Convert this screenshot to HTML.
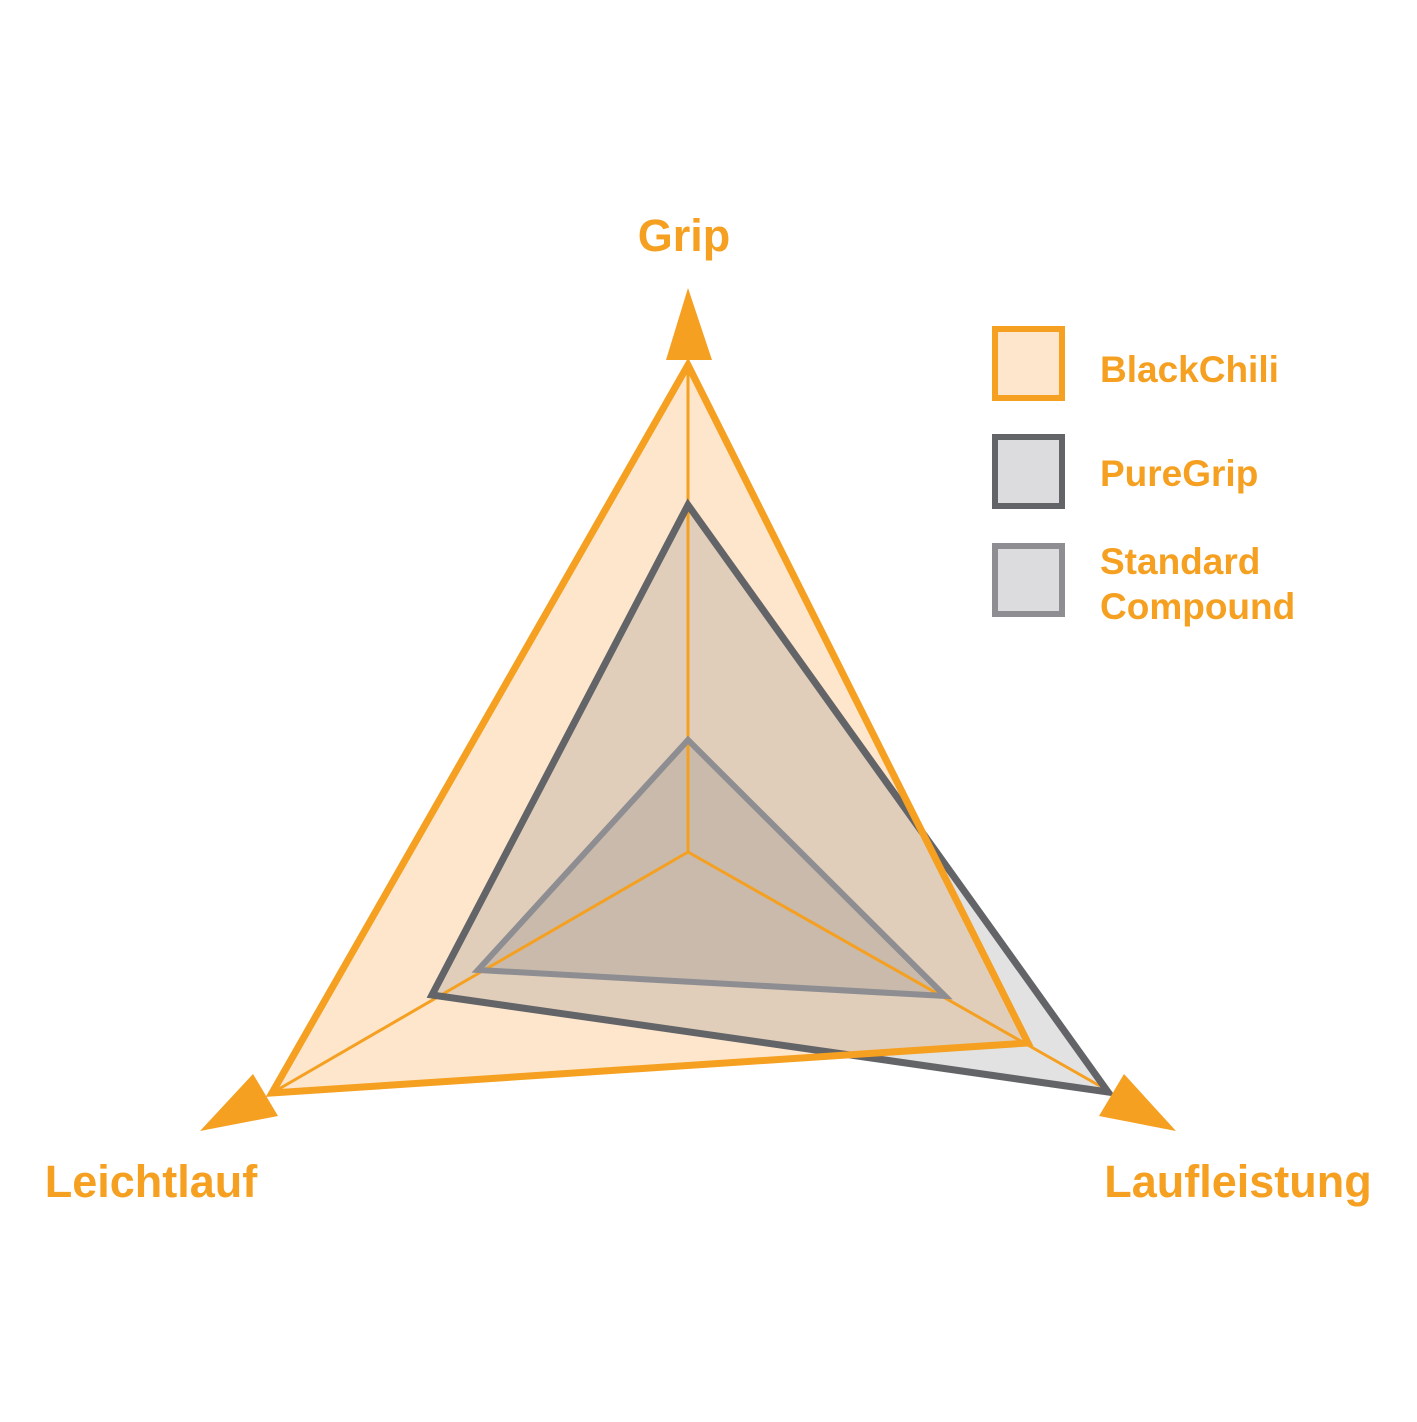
<!DOCTYPE html>
<html><head><style>body{margin:0;background:#fff}</style></head><body>
<svg width="1417" height="1417" viewBox="0 0 1417 1417" xmlns="http://www.w3.org/2000/svg">
<rect width="1417" height="1417" fill="#fff"/>
<polygon points="688,365 272,1093 1028,1043" fill="#fde6cc"/>
<polygon points="688,505 432,995 1108,1092" fill="rgba(110,110,115,0.2)"/>
<polygon points="688,740 478,970 945,996" fill="rgba(110,110,115,0.2)"/>
<g stroke="#f5a020" stroke-width="3" fill="none">
<line x1="688" y1="852" x2="688" y2="365"/>
<line x1="688" y1="852" x2="272" y2="1093"/>
<line x1="688" y1="852" x2="1100" y2="1086"/>
</g>
<polygon points="688,740 478,970 945,996" fill="none" stroke="#8e8e92" stroke-width="6"/>
<polygon points="688,505 432,995 1108,1092" fill="none" stroke="#636467" stroke-width="7"/>
<polygon points="688,365 272,1093 1028,1043" fill="none" stroke="#f5a020" stroke-width="7"/>
<g fill="#f5a020">
<polygon points="688,288 666,360 712,360"/>
<polygon points="200,1131 253,1074 278,1116"/>
<polygon points="1176,1131 1124,1074 1099,1116"/>
</g>
<rect x="995" y="329" width="67" height="69" fill="#fde6cc" stroke="#f5a020" stroke-width="6"/>
<rect x="995" y="437" width="67" height="69" fill="#dcdcde" stroke="#636467" stroke-width="6"/>
<rect x="995" y="546" width="67" height="68" fill="#dcdcde" stroke="#8e8e92" stroke-width="6"/>
<g font-family="Liberation Sans, sans-serif" font-weight="bold" fill="#f5a020" font-size="37">
<text x="1100" y="382">BlackChili</text>
<text x="1100" y="486">PureGrip</text>
<text x="1100" y="574">Standard</text>
<text x="1100" y="619">Compound</text>
<text x="684" y="251" text-anchor="middle" font-size="45">Grip</text>
<text x="151" y="1197" text-anchor="middle" font-size="45">Leichtlauf</text>
<text x="1238" y="1197" text-anchor="middle" font-size="45">Laufleistung</text>
</g>
</svg>
</body></html>
